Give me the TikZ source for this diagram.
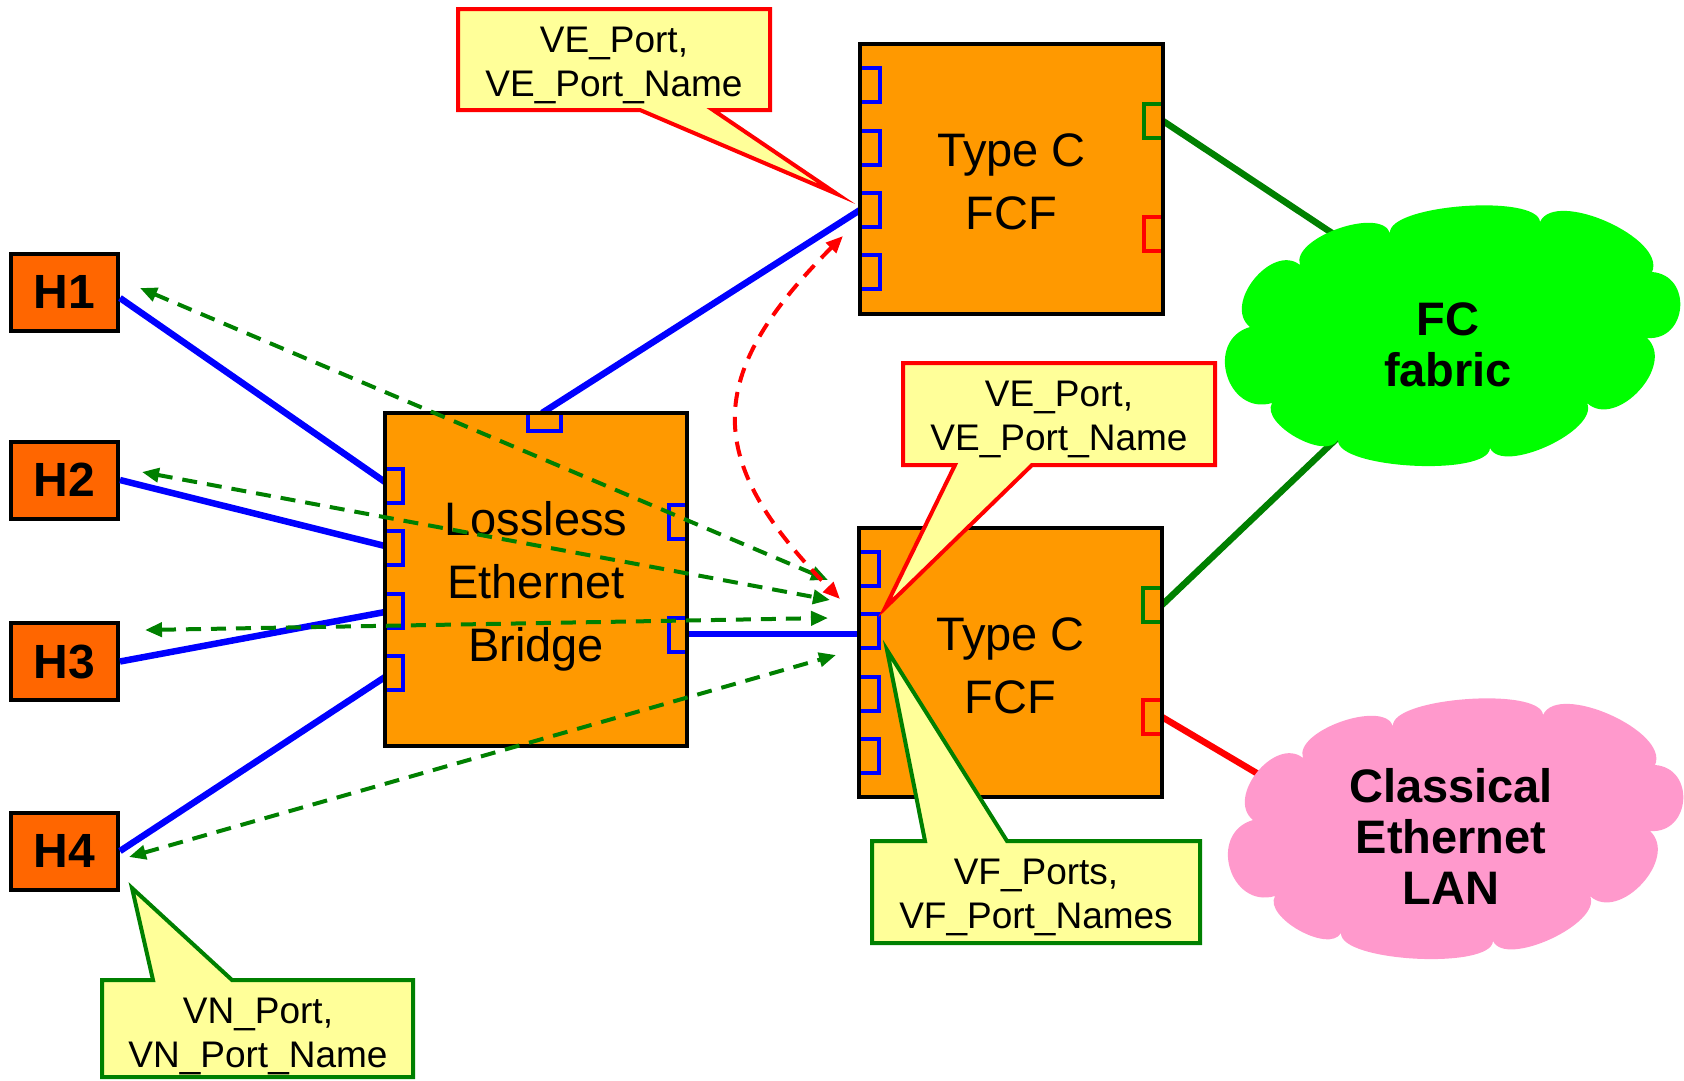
\documentclass[tikz,border=0pt]{standalone}
\usepackage{fontspec}
\setmainfont{Liberation Sans}
\usetikzlibrary{arrows.meta,calc}

\definecolor{boxorange}{HTML}{FF9900}
\definecolor{hostorange}{HTML}{FF6600}
\definecolor{linkblue}{HTML}{0000FF}
\definecolor{fcgreen}{HTML}{008000}
\definecolor{linkred}{HTML}{FF0000}
\definecolor{noteyellow}{HTML}{FFFF99}
\definecolor{fabricgreen}{HTML}{00FF00}
\definecolor{lanpink}{HTML}{FF99CC}

% one bulging puff from point #1 to point #2, bulge factor #3
\newcommand\puff[3]{.. controls ($(#1)!#3!90:(#2)$) and ($(#2)!#3!-90:(#1)$) .. (#2)}

% cloud outline of ten puffs, fill colour #1, offset #2
\newcommand\netcloudfill[2]{%
  \begin{scope}[shift={#2}]
    \coordinate (p1) at (1300,265);
    \coordinate (p2) at (1390,233);
    \coordinate (p3) at (1540,222);
    \coordinate (p4) at (1652,272);
    \coordinate (p5) at (1647,338);
    \coordinate (p6) at (1587,403);
    \coordinate (p7) at (1490,448);
    \coordinate (p8) at (1338,440);
    \coordinate (p9) at (1272,403);
    \coordinate (p10) at (1250,327);
    \fill[#1] (p1) \puff{p1}{p2}{0.3} \puff{p2}{p3}{0.19} \puff{p3}{p4}{0.3}
      \puff{p4}{p5}{0.62} \puff{p5}{p6}{0.45} \puff{p6}{p7}{0.28} \puff{p7}{p8}{0.19}
      \puff{p8}{p9}{0.32} \puff{p9}{p10}{0.6} \puff{p10}{p1}{0.45} -- cycle;
  \end{scope}}

\begin{document}
\begin{tikzpicture}[x=1pt,y=-1pt,
  host/.style={draw=black, line width=4pt, fill=hostorange, minimum width=107pt,
    minimum height=77pt, inner sep=0pt, font=\fontsize{48}{50}\selectfont\bfseries},
  device/.style={draw=black, line width=4pt, fill=boxorange, inner sep=0pt},
  devtext/.style={align=center, inner sep=0pt, font=\fontsize{47}{63}\selectfont},
  cloudtext/.style={align=center, inner sep=0pt, font=\fontsize{47}{51}\selectfont\bfseries},
  link/.style={line width=6.5pt},
  portmark/.style={line width=3.5pt},
  flowtips/.style={arrows={Triangle[length=17pt,width=14pt]-Triangle[length=17pt,width=14pt]}},
  flow/.style={line width=4pt, dash pattern=on 15pt off 10pt, flowtips},
  note/.style={line width=4pt, fill=noteyellow, line join=miter, miter limit=30},
  notetext/.style={align=center, inner sep=0pt, font=\fontsize{37}{44}\selectfont},
]
\useasboundingbox (0,0) rectangle (1684,1080);

% ---- links towards the two clouds (cloud bodies cover their far ends)
\coordinate (fcA) at (1350,245);
\coordinate (fcB) at (1350,426);
\coordinate (lanA) at (1270,781);
\coordinate (topG) at (1163,121);
\coordinate (botG) at (1162,605);
\coordinate (botR) at (1162,717);
\draw[link,fcgreen] (topG) -- (fcA);
\draw[link,fcgreen] (botG) -- (fcB);
\draw[link,linkred] (botR) -- (lanA);

\netcloudfill{fabricgreen}{(0,0)}
\netcloudfill{lanpink}{(3,493)}
\node[cloudtext] (fcText) at (1448,345) {FC\\fabric};
\node[cloudtext] (lanText) at (1451,836) {Classical\\Ethernet\\LAN};

% ---- hosts, bridge and the two FCFs
\node[host] (H1) at (64.5,292) {H1};
\node[host] (H2) at (64.5,480) {H2};
\node[host] (H3) at (64.5,661.5) {H3};
\node[host] (H4) at (64.5,851) {H4};

\coordinate (bl1) at (385,482);
\coordinate (bl2) at (385,546);
\coordinate (bl3) at (385,612);
\coordinate (bl4) at (385,677);
\coordinate (btop) at (542,413);
\coordinate (bright) at (687,634);
\coordinate (fcfAport) at (860,210);
\coordinate (fcfBport) at (859,634);

\draw[link,linkblue] ([yshift=-6pt]H1.east) -- (bl1);
\draw[link,linkblue] (H2.east) -- (bl2);
\draw[link,linkblue] (H3.east) -- (bl3);
\draw[link,linkblue] (H4.east) -- (bl4);
\draw[link,linkblue] (btop) -- (fcfAport);
\draw[link,linkblue] (bright) -- (fcfBport);

\node[device, minimum width=302pt, minimum height=333pt,
  label={[devtext, name=lebText, yshift=-7pt]center:{Lossless\\Ethernet\\Bridge}}]
  (leb) at (536,579.5) {};
\node[device, minimum width=303pt, minimum height=270pt,
  label={[devtext, name=fcfAText, yshift=-3pt]center:{Type C\\FCF}}]
  (fcfA) at (1011.5,179) {};
\node[device, minimum width=303pt, minimum height=269pt,
  label={[devtext, name=fcfBText, yshift=-3pt]center:{Type C\\FCF}}]
  (fcfB) at (1010.5,662.5) {};

% ---- port marks
\foreach \y in {486,548,611,673}
  \draw[portmark,linkblue] (387,\y-17) -| (403,\y+17) -- (387,\y+17);
\foreach \y in {522,635}
  \draw[portmark,linkblue] (685,\y-17) -| (669,\y+17) -- (685,\y+17);
\draw[portmark,linkblue] (528,415) |- (561,431) -- (561,415);
\foreach \y in {85,148,210,272}
  \draw[portmark,linkblue] (862,\y-17) -| (880,\y+17) -- (862,\y+17);
\draw[portmark,fcgreen] (1161,104) -| (1144,138) -- (1161,138);
\draw[portmark,linkred] (1161,217) -| (1144,251) -- (1161,251);
\foreach \y in {569,631,694,756}
  \draw[portmark,linkblue] (861,\y-17) -| (879,\y+17) -- (861,\y+17);
\draw[portmark,fcgreen] (1160,588) -| (1143,622) -- (1160,622);
\draw[portmark,linkred] (1160,700) -| (1143,734) -- (1160,734);

% ---- discovery paths (dashed, both directions)
\coordinate (h1f) at (140,288);
\coordinate (h2f) at (142,472);
\coordinate (h3f) at (145,630);
\coordinate (h4f) at (129,857);
\coordinate (vf1) at (828,580);
\coordinate (vf2) at (830,600);
\coordinate (vf3) at (828,618);
\coordinate (vf4) at (836,655);
\coordinate (veA) at (843,236);
\coordinate (veB) at (840,599);

\draw[flow,fcgreen] (h1f) -- (vf1);
\draw[flow,fcgreen] (h2f) -- (vf2);
\draw[flow,fcgreen] (h3f) -- (vf3);
\draw[flow,fcgreen] (h4f) -- (vf4);
\draw[flow,linkred] (veA) .. controls (703,376) and (703,460) .. (veB);

% ---- callouts
\draw[note,draw=linkred] (458,9) -- (770,9) -- (770,110) -- (713,110) -- (837,194)
  -- (640,110) -- (458,110) -- cycle;
\node[notetext] (veNoteA) at (614,65) {VE\_Port,\\VE\_Port\_Name};

\draw[note,draw=linkred] (903,363) -- (1215,363) -- (1215,465) -- (1032,465) -- (885,608)
  -- (955,465) -- (903,465) -- cycle;
\node[notetext] (veNoteB) at (1059,419) {VE\_Port,\\VE\_Port\_Name};

\draw[note,draw=fcgreen] (872,841) -- (925,841) -- (887,650) -- (1007,841) -- (1200,841)
  -- (1200,943) -- (872,943) -- cycle;
\node[notetext] (vfNote) at (1036,897) {VF\_Ports,\\VF\_Port\_Names};

\draw[note,draw=fcgreen] (102,980) -- (153,980) -- (132,888) -- (232,980) -- (413,980)
  -- (413,1077) -- (102,1077) -- cycle;
\node[notetext] (vnNote) at (258,1036) {VN\_Port,\\VN\_Port\_Name};
\end{tikzpicture}
\end{document}
